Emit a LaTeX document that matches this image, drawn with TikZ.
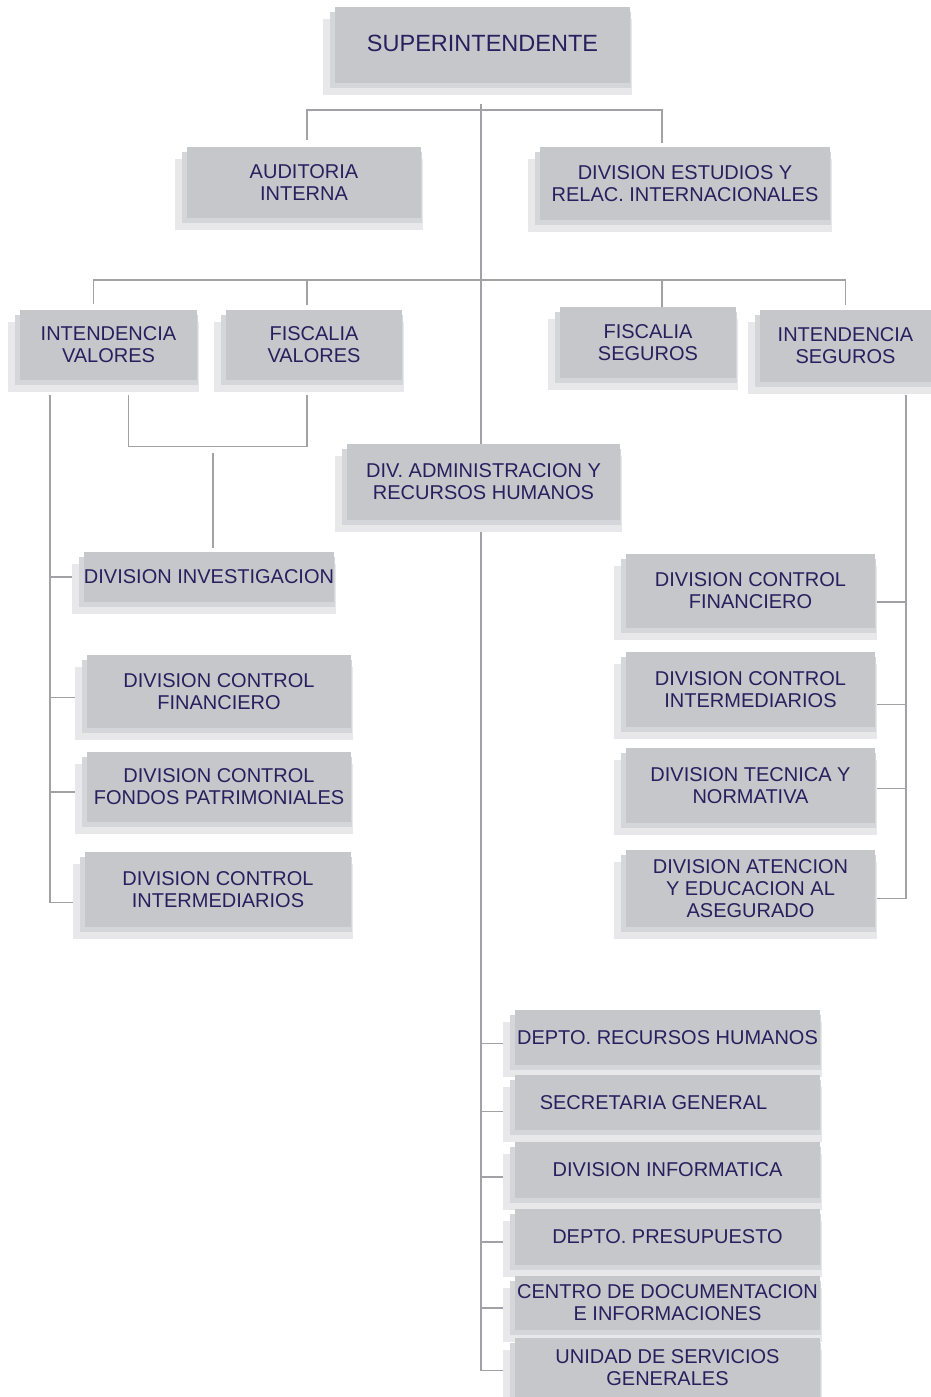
\documentclass[tikz,border=0pt]{standalone}
\usepackage{fontspec}
\setmainfont{Liberation Sans}
\usepackage{xcolor}
\definecolor{boxfill}{HTML}{C6C7CB}
\definecolor{boxshade}{HTML}{D5D6D9}
\definecolor{boxhalo}{HTML}{E8E8EA}
\definecolor{boxtext}{HTML}{27205E}
\definecolor{linkgray}{HTML}{A2A2A6}
\usepackage{tikz}
\usetikzlibrary{shadows, backgrounds}

\begin{document}
\begin{tikzpicture}[
  x=1pt, y=-1pt,
  unit/.style={
    fill=boxfill, text=boxtext, align=center, inner sep=0pt,
    font=\fontsize{20}{22}\selectfont,
    general shadow={fill=boxhalo, shadow xshift=-12pt, shadow yshift=-12pt},
    general shadow={fill=boxhalo, shadow xshift=2pt, shadow yshift=-12pt},
    general shadow={fill=boxshade, shadow xshift=-5pt, shadow yshift=-5pt},
    general shadow={fill=boxshade, shadow xshift=1pt, shadow yshift=-5pt}
  },
  dims/.style 2 args={minimum width=#1pt, minimum height=#2pt},
  link/.style={draw=linkgray, line width=1.4pt}
]
  \useasboundingbox (0,0) rectangle (931,1397);

  % top levels
  \node[unit, dims={295}{76}, font=\fontsize{23.5}{26}\selectfont] (sup) at (482.5,45)
    {\raisebox{4pt}{SUPERINTENDENTE}};
  \node[unit, dims={234}{71}] (aud) at (304,182.5) {AUDITORIA\\INTERNA};
  \node[unit, dims={290}{73}] (est) at (685,183.5) {DIVISION ESTUDIOS Y\\RELAC. INTERNACIONALES};

  \node[unit, dims={177}{70}] (intv) at (108.5,345) {INTENDENCIA\\VALORES};
  \node[unit, dims={176}{70}] (fisv) at (314,345) {FISCALIA\\VALORES};
  \node[unit, dims={176}{71}] (fiss) at (648,342.5) {FISCALIA\\SEGUROS};
  \node[unit, dims={171}{72}] (ints) at (845.5,346) {INTENDENCIA\\SEGUROS};

  \node[unit, dims={273}{76}] (adm) at (483.5,482) {DIV. ADMINISTRACION Y\\RECURSOS HUMANOS};

  % valores side
  \node[unit, dims={248}{50}] (inv) at (209,577) {DIVISION INVESTIGACION};
  \node[unit, dims={264}{73}] (dcfl) at (219,691.5) {DIVISION CONTROL\\FINANCIERO};
  \node[unit, dims={264}{70}] (dcfp) at (219,787) {DIVISION CONTROL\\FONDOS PATRIMONIALES};
  \node[unit, dims={266}{75}] (dcil) at (218,889.5) {DIVISION CONTROL\\INTERMEDIARIOS};

  % seguros side
  \node[unit, dims={249}{74}] (dcfr) at (750.5,591) {DIVISION CONTROL\\FINANCIERO};
  \node[unit, dims={249}{75}] (dcir) at (750.5,689.5) {DIVISION CONTROL\\INTERMEDIARIOS};
  \node[unit, dims={249}{75}] (dtn) at (750.5,785.5) {DIVISION TECNICA Y\\NORMATIVA};
  \node[unit, dims={249}{77}] (daea) at (750.5,888.5) {DIVISION ATENCION\\Y EDUCACION AL\\ASEGURADO};

  % administracion
  \foreach \n/\y/\h/\t in {rrhh/1037.5/55/{DEPTO. RECURSOS HUMANOS},
                           sec/1102.5/55/{SECRETARIA GENERAL\hspace{28pt}},
                           inf/1170/56/{DIVISION INFORMATICA},
                           pre/1237/56/{DEPTO. PRESUPUESTO},
                           cdi/1303/54/{CENTRO DE DOCUMENTACION\\E INFORMACIONES},
                           usg/1367.5/59/{UNIDAD DE SERVICIOS\\GENERALES}}
    \node[unit, dims={305}{\h}] (\n) at (667.5,\y) {\t};

  \coordinate (top) at (481,104);
  \coordinate (bar1) at (481,110);
  \coordinate (bar2) at (481,280);
  \coordinate (lsp) at (50,395);
  \coordinate (rsp) at (906,395);

  \begin{scope}[on background layer]
    \draw[link] ([xshift=3pt,yshift=7pt]aud.north) |- (bar1) -| ([xshift=-23pt,yshift=4pt]est.north);
    \draw[link] ([xshift=-15pt,yshift=6pt]intv.north) |- (bar2) -| ([yshift=5pt]ints.north);
    \draw[link] ([xshift=-7pt,yshift=5pt]fisv.north) -- ++(0,-25);
    \draw[link] ([xshift=14pt]fiss.north) -- ++(0,-27);

    \draw[link] ([xshift=20pt,yshift=-15pt]intv.south) -- ++(0,51)
      -| ([xshift=-7pt,yshift=-15pt]fisv.south);
    \draw[link] ([xshift=4pt,yshift=4pt]inv.north) -- ++(0,-95);

    \foreach \n/\dy in {inv/0, dcfl/-6, dcfp/-5, dcil/-13}
      \draw[link] (lsp) |- ([xshift=-5pt,yshift=\dy pt]\n.west);
    \foreach \n/\dy in {dcfr/-11, dcir/-15, dtn/-3, daea/-10}
      \draw[link] (rsp) |- ([yshift=\dy pt]\n.east);
    \foreach \n/\dy in {rrhh/-6, sec/-9, inf/-7, pre/-5, cdi/-5, usg/-3}
      \draw[link] (top) |- ([xshift=-10pt,yshift=\dy pt]\n.west);
  \end{scope}
\end{tikzpicture}
\end{document}
